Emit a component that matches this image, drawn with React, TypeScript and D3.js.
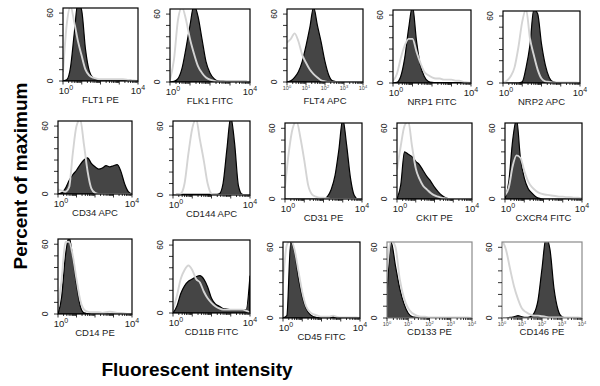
import React from 'react';
import * as d3 from 'd3';

// histogram bins, in decades (10^0 .. 10^4)
const LOG_POS = [0, 0.2, 0.4, 0.6, 0.8, 1.0, 1.2, 1.4, 1.6, 1.8, 2.0, 2.2, 2.4, 2.6, 2.8, 3.0, 3.2, 3.4, 3.6, 3.8, 4.0];

const MARKERS = [
    'FLT1 PE', 'FLK1 FITC', 'FLT4 APC', 'NRP1 FITC', 'NRP2 APC',
    'CD34 APC', 'CD144 APC', 'CD31 PE', 'CKIT PE', 'CXCR4 FITC',
    'CD14 PE', 'CD11B FITC', 'CD45 FITC', 'CD133 PE', 'CD146 PE',
];

// percent of maximum, stained (dark) vs isotype (grey)
const flt1Stained = [0, 1, 12, 42, 70, 62, 28, 9, 3, 1.5, 1, 1, 1, 1, 1.2, 1, 1, 0.8, 0.5, 0.3, 0];
const flt1Isotype = [8, 50, 66, 52, 35, 22, 10, 5, 3, 2, 1.5, 1.5, 1.5, 1.5, 1.5, 1.5, 1.5, 1.2, 0.5, 0.5, 0];
const flk1Stained = [0, 0.5, 3, 12, 30, 50, 68, 58, 38, 18, 8, 3, 1, 0.8, 0.6, 0.5, 0.5, 0.5, 0.5, 0.5, 0];
const flk1Isotype = [2, 20, 55, 66, 55, 38, 25, 14, 8, 4, 2, 1, 0.5, 0.5, 0.5, 0.5, 0.5, 0.5, 0.5, 0.5, 0];
const flt4Stained = [0, 1, 4, 9, 18, 32, 48, 66, 50, 35, 18, 6, 1, 0.3, 0, 0, 0, 0, 0, 0, 0];
const flt4Isotype = [35, 38, 43, 36, 24, 17, 11, 7, 4, 1.5, 0.5, 0, 0, 0, 0, 0, 0, 0, 0, 0, 0];
const nrp1Stained = [0, 0.5, 6, 22, 48, 68, 38, 16, 6, 1.5, 0.5, 0.3, 0.3, 0.3, 0.3, 0.3, 0.3, 0.3, 0.3, 0.3, 0];
const nrp1Isotype = [2, 8, 22, 33, 39, 39, 28, 18, 10, 7, 5, 4, 4, 3, 3, 3, 2, 2, 1, 0.5, 0];
const nrp2Stained = [0, 0, 0, 0, 0, 1, 14, 34, 66, 62, 35, 16, 5, 1, 0.3, 0, 0, 0, 0, 0, 0];
const nrp2Isotype = [0, 2, 6, 14, 32, 55, 66, 40, 25, 12, 4, 1.5, 1, 0.5, 0.5, 0.5, 0.5, 0.5, 0.5, 0.5, 0];
const cd34Stained = [0, 1, 5, 12, 17, 21, 26, 30, 32, 27, 24, 22, 23, 25, 24, 25, 26, 20, 9, 2, 0];
const cd34Isotype = [4, 3, 2, 6, 36, 60, 66, 44, 20, 5, 1, 0, 0, 0, 0, 0, 0, 0, 0, 0, 0];
const cd144Stained = [0, 0.5, 0.5, 0.5, 0.5, 0.5, 0.5, 0.5, 0.5, 0.5, 0.5, 0.5, 1, 10, 40, 68, 45, 8, 0.5, 0, 0];
const cd144Isotype = [0, 0, 1, 10, 36, 58, 66, 48, 30, 10, 1, 0, 0, 0, 0, 0, 0, 0, 0, 0, 0];
const cd31Stained = [0, 0, 0, 0, 0, 0, 0, 0, 0, 0, 0.3, 2, 8, 20, 42, 68, 46, 18, 3, 0, 0];
const cd31Isotype = [10, 40, 60, 66, 52, 33, 12, 4, 2, 1, 1, 0.5, 0, 0, 0, 0, 0, 0, 0, 0, 0];
const ckitStained = [0, 12, 40, 38, 36, 32, 29, 24, 19, 15, 10, 6, 3, 1, 0, 0, 0, 0, 0, 0, 0];
const ckitIsotype = [25, 45, 62, 66, 45, 26, 17, 11, 8, 5, 3, 2, 1, 0.5, 0, 0, 0, 0, 0, 0, 0];
const cxcr4Stained = [0, 15, 50, 68, 35, 18, 9, 5, 2, 0.5, 0, 0, 0, 0, 0, 0, 0, 0, 0, 0, 0];
const cxcr4Isotype = [3, 10, 28, 37, 35, 24, 15, 10, 7, 5, 4, 3.5, 3, 2.5, 2, 2, 1.5, 1.5, 1, 1, 0.5];
const cd14Stained = [0, 15, 50, 66, 48, 25, 7, 1, 0.3, 0, 0, 0, 0, 0, 0, 0, 0, 0, 0, 0, 0];
const cd14Isotype = [5, 30, 62, 62, 50, 30, 12, 4, 2, 1.5, 1.5, 1.5, 1, 1.5, 2, 1.5, 1, 1, 0.5, 0, 0];
const cd11bStained = [0, 6, 17, 24, 28, 30, 32, 33, 30, 23, 13, 8, 6, 4, 3.5, 3, 3, 3, 3, 3, 33];
const cd11bIsotype = [3, 15, 30, 38, 42, 38, 30, 27, 19, 13, 9, 6, 4, 3, 3, 3, 3, 3, 3, 2, 0];
const cd45Stained = [0, 2, 64, 56, 34, 18, 8, 3, 1, 0.3, 0, 0, 0, 1, 0, 0, 0, 0, 0, 0, 0];
const cd45Isotype = [30, 62, 66, 58, 40, 22, 10, 5, 3, 2, 1, 1, 1, 2, 1, 0.5, 0.5, 0.5, 0.5, 0.5, 0];
const cd133Stained = [20, 64, 44, 25, 12, 4, 1, 0.5, 0.3, 0.3, 0.3, 0.3, 0.3, 0.3, 0.3, 0.2, 0, 0, 0, 0, 0];
const cd133Isotype = [40, 66, 60, 33, 17, 8, 4, 2, 1, 1, 0.5, 0.5, 0.5, 0.5, 0.5, 0.5, 0.5, 0.5, 0.5, 0.5, 0];
const cd146Stained = [0, 0, 0.5, 1, 2, 1, 0.5, 1, 4, 15, 42, 68, 58, 25, 7, 1, 0, 0, 0, 0, 0];
const cd146Isotype = [66, 58, 42, 27, 16, 8, 5, 3, 2, 2, 1.5, 1, 0.5, 0.5, 0.5, 0.5, 0.5, 0.5, 0.5, 0.5, 0];

const STAINED = [flt1Stained, flk1Stained, flt4Stained, nrp1Stained, nrp2Stained,
    cd34Stained, cd144Stained, cd31Stained, ckitStained, cxcr4Stained,
    cd14Stained, cd11bStained, cd45Stained, cd133Stained, cd146Stained];
const ISOTYPE = [flt1Isotype, flk1Isotype, flt4Isotype, nrp1Isotype, nrp2Isotype,
    cd34Isotype, cd144Isotype, cd31Isotype, ckitIsotype, cxcr4Isotype,
    cd14Isotype, cd11bIsotype, cd45Isotype, cd133Isotype, cd146Isotype];

const Y_TICK_LABELS = ['0', '60'];
const DECADES = [0, 1, 2, 3, 4];

// layout: box [left, right, top, bottom]
const BOXES = [
    [63, 138, 8, 81], [170, 250, 9, 82], [287, 363, 9, 82], [393, 471, 10, 83], [503, 580, 11, 83],
    [58, 132, 121, 194], [173, 250, 121, 195], [285, 362, 123, 199], [397, 472, 123, 199], [505, 582, 123, 199],
    [58, 132, 239, 314], [173, 250, 240, 313], [283, 360, 242, 318], [387, 472, 242, 318], [502, 582, 242, 318],
];
const FINE_AXIS = [2, 13, 14];
const GREY_FRAME = [13, 14];

const FONT = 'Arial, "Liberation Sans", sans-serif';
const DARK = '#454545';
const GREY = '#d4d4d4';

const minorTicks = d3.scaleLog().domain([1, 1e4]).ticks().map(v => Math.log10(v));

const Panel: React.FC<{ i: number }> = ({ i }) => {
    const [x0, x1, y0, y1] = BOXES[i];
    const fine = FINE_AXIS.includes(i);
    const x = d3.scaleLinear().domain([0, 4]).range([x0, x1]);
    const y = d3.scaleLinear().domain([0, 64.5]).range([y1, y0]);

    const area = d3.area<number>()
        .x((_, k) => x(LOG_POS[k]))
        .y0(y(0))
        .y1(d => y(d))
        .curve(d3.curveMonotoneX);
    const line = d3.line<number>()
        .x((_, k) => x(LOG_POS[k]))
        .y(d => y(d))
        .curve(d3.curveMonotoneX);

    const clipId = `clip-${i}`;
    // bottom row fine-axis panels sit their names closer to the box
    const labelY = fine && i !== 2 ? y1 + 17 : y1 + 22;

    return (
        <g>
            <defs>
                <clipPath id={clipId}>
                    <rect x={x0} y={y0} width={x1 - x0} height={y1 - y0} />
                </clipPath>
            </defs>
            <g clipPath={`url(#${clipId})`}>
                <path d={area(STAINED[i]) || ''} fill={DARK} stroke="#000" strokeWidth={1.2} />
                <path d={line(ISOTYPE[i]) || ''} fill="none" stroke={GREY} strokeWidth={1.9} />
            </g>
            <rect x={x0} y={y0} width={x1 - x0} height={y1 - y0} fill="none"
                stroke={GREY_FRAME.includes(i) ? '#8a8a8a' : '#000'} strokeWidth={1.2} />

            {/* left axis ticks */}
            {d3.range(0, 61, 10).map(v => (
                <line key={v} x1={x0 - 4} x2={x0} y1={y(v)} y2={y(v)} stroke="#000" strokeWidth={0.8} />
            ))}
            {Y_TICK_LABELS.map(t => (
                <text key={t} transform={`translate(${x0 - 10},${y(+t)}) rotate(-90)`} textAnchor="middle"
                    fontSize={8.5} fontFamily={FONT} fill="#222">{t}</text>
            ))}

            {/* log ticks along the bottom */}
            {minorTicks.map((v, k) => (
                <line key={k} x1={x(v)} x2={x(v)} y1={y1} y2={y1 + (Number.isInteger(v) ? 3.5 : 2)}
                    stroke="#000" strokeWidth={0.8} />
            ))}

            {fine
                ? DECADES.map(d => (
                    <text key={d} x={x(d)} y={y1 + 8} textAnchor="middle" fontSize={5.5} fontFamily={FONT} fill="#444">
                        10<tspan dy={-2.5} fontSize={4}>{d}</tspan>
                    </text>
                ))
                : [0, 4].map(d => (
                    <text key={d} x={x(d) + (d === 0 ? 3 : 0)} y={y1 + 13} textAnchor="middle" fontSize={9.5}
                        fontFamily={FONT} fill="#222">
                        10<tspan dy={-4} fontSize={7}>{d}</tspan>
                    </text>
                ))}

            <text x={(x0 + x1) / 2} y={labelY} textAnchor="middle" fontSize={9.5} fontFamily={FONT} fill="#222">
                {MARKERS[i]}
            </text>
        </g>
    );
};

export default function App() {
    return (
        <svg width={600} height={386} style={{ position: 'absolute', left: 0, top: 0, background: '#fff' }}>
            <rect width={600} height={386} fill="#fff" />
            {MARKERS.map((_, i) => <Panel key={i} i={i} />)}
            <text transform="translate(27,176) rotate(-90)" textAnchor="middle" fontSize={19} fontWeight="bold"
                fontFamily={FONT}>Percent of maximum</text>
            <text x={197} y={376} textAnchor="middle" fontSize={19} fontWeight="bold" fontFamily={FONT}>
                Fluorescent intensity
            </text>
        </svg>
    );
}
